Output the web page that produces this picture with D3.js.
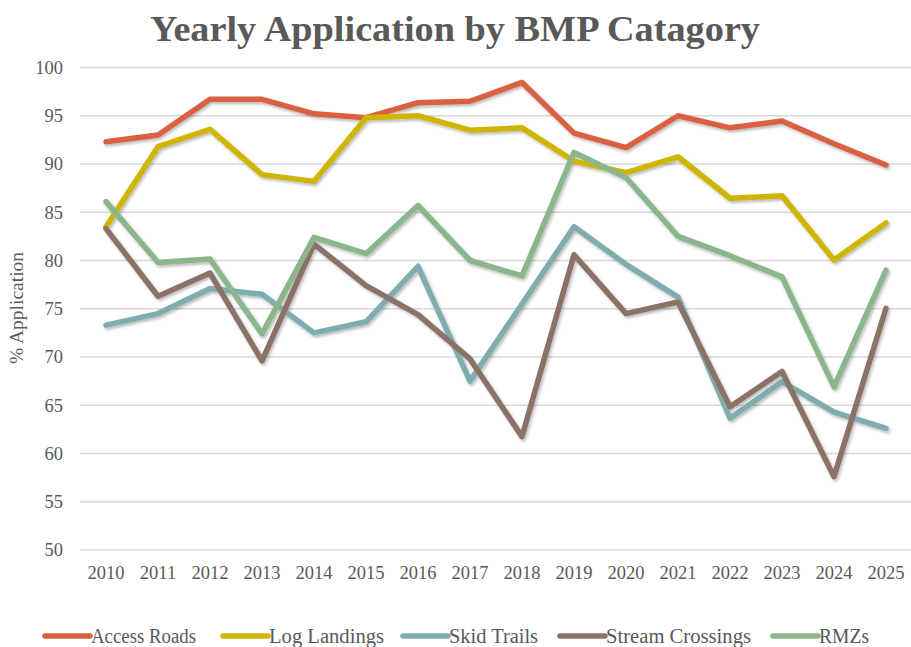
<!DOCTYPE html>
<html>
<head>
<meta charset="utf-8">
<script src="https://cdn.jsdelivr.net/npm/d3@7"></script>
<style>
  html, body { margin: 0; padding: 0; background: #fff; }
  svg { display: block; }
</style>
</head>
<body>
<svg id="chart" width="911" height="647"></svg>
<script>
const years = ["2010","2011","2012","2013","2014","2015","2016","2017","2018","2019","2020","2021","2022","2023","2024","2025"];
const yTicks = [50, 55, 60, 65, 70, 75, 80, 85, 90, 95, 100];
const seriesNames = ["Access Roads", "Log Landings", "Skid Trails", "Stream Crossings", "RMZs"];
const accessRoads     = [92.3, 93.0, 96.7, 96.7, 95.2, 94.8, 96.35, 96.5, 98.45, 93.2, 91.7, 95.0, 93.75, 94.45, 92.1, 89.9];
const logLandings     = [83.5, 91.8, 93.6, 88.9, 88.2, 94.8, 95.0, 93.5, 93.75, 90.3, 89.1, 90.75, 86.45, 86.7, 80.05, 83.9];
const skidTrails      = [73.3, 74.5, 77.1, 76.5, 72.5, 73.65, 79.4, 67.5, 75.5, 83.5, 79.6, 76.2, 63.65, 67.45, 64.3, 62.6];
const streamCrossings = [83.3, 76.3, 78.7, 69.6, 81.7, 77.4, 74.4, 69.8, 61.75, 80.6, 74.5, 75.7, 64.85, 68.5, 57.6, 75.05];
const rmzs            = [86.1, 79.8, 80.15, 72.4, 82.4, 80.7, 85.7, 80.0, 78.4, 91.2, 88.6, 82.5, 80.5, 78.3, 66.9, 79.0];
const colors = ["#D9603F", "#CDB500", "#7FACAE", "#8A7266", "#8BB58A"];

const seriesValues = [accessRoads, logLandings, skidTrails, streamCrossings, rmzs];
const series = seriesNames.map((name, i) => ({ name, color: colors[i], values: seriesValues[i] }));

const svg = d3.select("#chart");
const textColor = "#595959";
const serif = "'Liberation Serif', 'DejaVu Serif', serif";

const x = d3.scaleBand().domain(years).range([80, 912]).padding(0);
const y = d3.scaleLinear().domain([50, 100]).range([550, 67.5]);

// shadow filter
const defs = svg.append("defs");
const f = defs.append("filter").attr("id", "shadow").attr("x", "-10%").attr("y", "-10%").attr("width", "120%").attr("height", "130%");
f.append("feDropShadow").attr("dx", 1.5).attr("dy", 2).attr("stdDeviation", 1.5).attr("flood-color", "#000").attr("flood-opacity", 0.28);

// title
svg.append("text")
  .attr("x", 455).attr("y", 41)
  .attr("text-anchor", "middle")
  .attr("font-family", serif)
  .attr("font-weight", "bold")
  .attr("font-size", 35)
  .attr("fill", textColor)
  .attr("textLength", 610)
  .attr("lengthAdjust", "spacingAndGlyphs")
  .text("Yearly Application by BMP Catagory");

// gridlines
svg.append("g")
  .selectAll("line")
  .data(yTicks)
  .join("line")
  .attr("x1", 80).attr("x2", 911)
  .attr("y1", d => y(d)).attr("y2", d => y(d))
  .attr("stroke", "#d9d9d9").attr("stroke-width", 1.3);

// y axis
const yAxis = svg.append("g")
  .attr("transform", "translate(80,0)")
  .call(d3.axisLeft(y).tickValues(yTicks).tickSize(0).tickPadding(17));
yAxis.select(".domain").remove();
yAxis.selectAll("text")
  .attr("font-family", serif)
  .attr("font-size", 18.5)
  .attr("fill", textColor);

// x axis
const xAxis = svg.append("g")
  .attr("transform", "translate(0,550)")
  .call(d3.axisBottom(x).tickSize(0).tickPadding(16));
xAxis.select(".domain").remove();
xAxis.selectAll("text")
  .attr("font-family", serif)
  .attr("font-size", 18.5)
  .attr("fill", textColor);

// y axis title
svg.append("text")
  .attr("transform", "translate(23,308) rotate(-90)")
  .attr("text-anchor", "middle")
  .attr("font-family", serif)
  .attr("font-size", 19.5)
  .attr("fill", textColor)
  .text("% Application");

// lines
const line = d3.line()
  .x((d, i) => x(years[i]) + x.bandwidth() / 2)
  .y(d => y(d));

svg.append("g")
  .attr("filter", "url(#shadow)")
  .selectAll("path")
  .data(series)
  .join("path")
  .attr("d", d => line(d.values))
  .attr("fill", "none")
  .attr("stroke", d => d.color)
  .attr("stroke-width", 5.5)
  .attr("stroke-linejoin", "round")
  .attr("stroke-linecap", "round");

// legend
const legendX = [45, 223, 403, 560, 773];
const legendW = [105, 115, 89, 145, 50];
const lg = svg.append("g").selectAll("g").data(series).join("g")
  .attr("transform", (d, i) => `translate(${legendX[i]},636)`);
lg.append("line")
  .attr("x1", 0).attr("x2", 45).attr("y1", 0).attr("y2", 0)
  .attr("stroke", d => d.color).attr("stroke-width", 5.5).attr("stroke-linecap", "round");
lg.append("text")
  .attr("x", 46).attr("y", 7)
  .attr("font-family", serif)
  .attr("font-size", 20)
  .attr("fill", textColor)
  .attr("textLength", (d, i) => legendW[i])
  .attr("lengthAdjust", "spacingAndGlyphs")
  .text(d => d.name);
</script>
</body>
</html>
